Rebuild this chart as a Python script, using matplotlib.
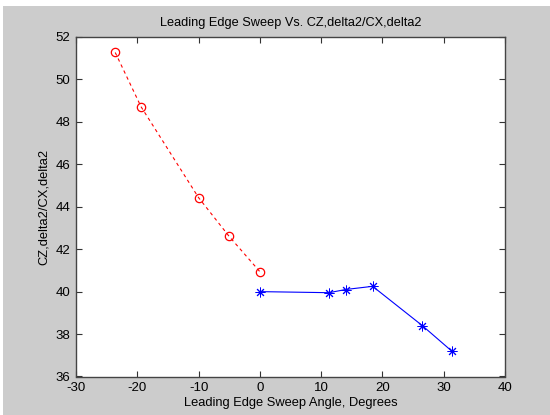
import matplotlib
matplotlib.use("Agg")
import matplotlib.pyplot as plt
from matplotlib.patches import Rectangle

plt.rcParams['font.family'] = ['Liberation Sans', 'DejaVu Sans']
plt.rcParams['axes.unicode_minus'] = False

red_x = [-23.6, -19.4, -10.0, -5.0, 0.0]
red_y = [51.27, 48.72, 44.43, 42.6, 40.94]
blue_x = [0.0, 11.3, 14.0, 18.4, 26.5, 31.3]
blue_y = [40.0, 39.95, 40.1, 40.25, 38.4, 37.2]

xticks = [-30, -20, -10, 0, 10, 20, 30, 40]
yticks = [36, 38, 40, 42, 44, 46, 48, 50, 52]

fig = plt.figure(figsize=(5.5, 4.15), dpi=100, facecolor='#cccccc')
# white strips at top and left edges
fig.patches.append(Rectangle((0, 1 - 6/415), 1, 6/415, transform=fig.transFigure,
                             facecolor='white', edgecolor='none', zorder=0))
fig.patches.append(Rectangle((0, 0), 3/550, 1, transform=fig.transFigure,
                             facecolor='white', edgecolor='none', zorder=0))

ax = fig.add_axes([76/550, 1 - 376.5/415, (505-76)/550, (376.5-37)/415])
ax.set_facecolor('white')
ax.plot(red_x, red_y, color='red', linestyle=(0, (3, 3)), linewidth=0.8,
        marker='o', markersize=6, markerfacecolor='none', markeredgecolor='red',
        markeredgewidth=0.9)
ax.plot(blue_x, blue_y, color='blue', linestyle='-', linewidth=0.8,
        marker=(8, 2, 0), markersize=7, markerfacecolor='blue', markeredgecolor='blue',
        markeredgewidth=0.7)

ax.set_xlim(-30, 40)
ax.set_ylim(36, 52)
ax.set_xticks(xticks)
ax.set_yticks(yticks)
ax.tick_params(direction='in', top=True, right=True, length=4, width=0.8,
               colors='#333333', labelsize=9.5, labelcolor='black', pad=4)
for s in ax.spines.values():
    s.set_color('#444444')
    s.set_linewidth(1.0)

ax.set_title('Leading Edge Sweep Vs. CZ,delta2/CX,delta2', fontsize=9.2, pad=8)
ax.set_xlabel('Leading Edge Sweep Angle, Degrees', fontsize=9.3, labelpad=2)
ax.set_ylabel('CZ,delta2/CX,delta2', fontsize=9.3, labelpad=4)

fig.savefig('out.png', dpi=100, facecolor=fig.get_facecolor())
